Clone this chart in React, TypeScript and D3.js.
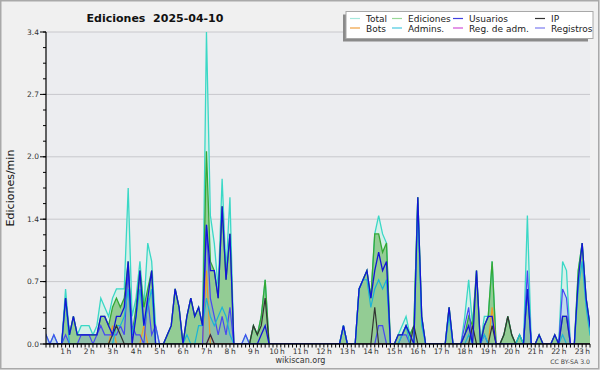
import React from "react";
import * as d3 from "d3";

// 10-minute bins starting at 00:00, values in edits/min (one row per hour)
const total = [
  0, 0.1, 0, 0.1, 0, 0,
  0.6, 0.1, 0.3, 0.1, 0.2, 0.2,
  0.2, 0.1, 0.2, 0.5, 0.4, 0.3,
  0.5, 0.6, 0.6, 0.6, 1.7, 0.3,
  0.5, 0.9, 0.4, 1.1, 0.9, 0.2,
  0, 0, 0.1, 0.2, 0.6, 0.4,
  0, 0.3, 0.5, 0.3, 0.4, 0.2,
  3.4, 1.4, 1.1, 0.6, 1.8, 0.8,
  1.6, 0, 0, 0, 0.1, 0,
  0.2, 0.1, 0.3, 0.7, 0, 0,
  0, 0, 0, 0, 0, 0,
  0, 0, 0, 0, 0, 0,
  0, 0, 0, 0, 0, 0.2,
  0, 0, 0, 0.6, 0.7, 0.8,
  0.5, 1.2, 1.4, 1.2, 1.1, 0,
  0, 0.1, 0.2, 0.3, 0.1, 0.2,
  1.6, 0.3, 0, 0, 0, 0,
  0, 0, 0.4, 0, 0, 0,
  0.3, 0.7, 0.2, 0.8, 0, 0.3,
  0.3, 0.9, 0, 0, 0.1, 0.3,
  0.1, 0, 0.1, 0, 1.4, 0,
  0, 0.1, 0, 0, 0, 0.1,
  0, 0.9, 0.8, 0, 0, 0.8,
  1.1, 0.5, 0.2, 0, 0, 0,
];

const ediciones = [
  0, 0, 0, 0, 0, 0,
  0.5, 0.1, 0.3, 0.1, 0.1, 0.1,
  0.1, 0.1, 0.1, 0.3, 0.3, 0.2,
  0.4, 0.5, 0.4, 0.5, 0.9, 0.1,
  0.4, 0.8, 0.4, 0.6, 0.8, 0,
  0, 0, 0.1, 0.2, 0.6, 0.4,
  0, 0.3, 0.5, 0.3, 0.4, 0.2,
  2.1, 0.9, 0.8, 0.5, 1.5, 0.7,
  1.2, 0, 0, 0, 0, 0,
  0.2, 0.1, 0.3, 0.7, 0, 0,
  0, 0, 0, 0, 0, 0,
  0, 0, 0, 0, 0, 0,
  0, 0, 0, 0, 0, 0.2,
  0, 0, 0, 0.6, 0.7, 0.8,
  0.5, 1.2, 1.2, 1.0, 1.1, 0,
  0, 0.1, 0.1, 0.2, 0.1, 0.2,
  1.6, 0.3, 0, 0, 0, 0,
  0, 0, 0.4, 0, 0, 0,
  0.1, 0.3, 0.2, 0.8, 0, 0.2,
  0.3, 0.9, 0, 0, 0.1, 0.3,
  0.1, 0, 0.1, 0, 0.6, 0,
  0, 0.1, 0, 0, 0, 0.1,
  0, 0.3, 0.3, 0, 0, 0.8,
  1.1, 0.5, 0.2, 0, 0, 0,
];

const usuarios = [
  0, 0, 0, 0, 0, 0,
  0.5, 0.1, 0.3, 0.1, 0.1, 0.1,
  0.1, 0.1, 0.1, 0.3, 0.3, 0.2,
  0.1, 0.3, 0.3, 0.4, 0.9, 0,
  0.3, 0.8, 0.2, 0.5, 0.8, 0,
  0, 0, 0.1, 0.2, 0.6, 0.4,
  0, 0.3, 0.5, 0.3, 0.4, 0.2,
  1.3, 0.8, 0.8, 0.5, 1.5, 0.7,
  1.2, 0, 0, 0, 0, 0,
  0, 0, 0.1, 0.2, 0, 0,
  0, 0, 0, 0, 0, 0,
  0, 0, 0, 0, 0, 0,
  0, 0, 0, 0, 0, 0.2,
  0, 0, 0, 0.6, 0.7, 0.8,
  0.5, 0.8, 1.0, 0.8, 0.9, 0,
  0, 0.1, 0.1, 0.2, 0.1, 0,
  1.6, 0.3, 0, 0, 0, 0,
  0, 0, 0.4, 0, 0, 0,
  0.1, 0.2, 0, 0.8, 0, 0.2,
  0.3, 0.3, 0, 0, 0, 0,
  0, 0, 0, 0, 0.6, 0,
  0, 0.1, 0, 0, 0, 0.1,
  0, 0.3, 0.3, 0, 0, 0.7,
  1.1, 0.5, 0.2, 0, 0, 0,
];

const ip = [
  0, 0, 0, 0, 0, 0,
  0, 0, 0, 0, 0, 0,
  0, 0, 0, 0, 0, 0,
  0.1, 0.2, 0.1, 0, 0, 0,
  0, 0, 0, 0, 0, 0,
  0, 0, 0, 0, 0, 0,
  0, 0, 0, 0, 0, 0,
  0, 0.1, 0, 0, 0, 0,
  0, 0, 0, 0, 0, 0,
  0.2, 0.1, 0.2, 0.5, 0, 0,
  0, 0, 0, 0, 0, 0,
  0, 0, 0, 0, 0, 0,
  0, 0, 0, 0, 0, 0,
  0, 0, 0, 0, 0, 0,
  0, 0.4, 0, 0, 0, 0,
  0, 0, 0, 0, 0, 0.2,
  0, 0, 0, 0, 0, 0,
  0, 0, 0, 0, 0, 0,
  0, 0, 0.2, 0, 0, 0,
  0, 0.2, 0, 0, 0.1, 0.3,
  0.1, 0, 0, 0, 0, 0,
  0, 0, 0, 0, 0, 0,
  0, 0, 0, 0, 0, 0,
  0, 0, 0, 0, 0, 0,
];

const bots = [
  0, 0, 0, 0, 0, 0,
  0, 0, 0, 0, 0, 0,
  0, 0, 0, 0, 0, 0,
  0.2, 0, 0, 0, 0, 0,
  0, 0, 0.2, 0, 0, 0,
  0, 0, 0, 0, 0, 0,
  0, 0, 0, 0, 0, 0,
  0.8, 0, 0, 0, 0, 0,
  0, 0, 0, 0, 0, 0,
  0, 0, 0, 0, 0, 0,
  0, 0, 0, 0, 0, 0,
  0, 0, 0, 0, 0, 0,
  0, 0, 0, 0, 0, 0,
  0, 0, 0, 0, 0, 0,
  0, 0, 0, 0, 0, 0,
  0, 0, 0, 0, 0, 0,
  0, 0, 0, 0, 0, 0,
  0, 0, 0, 0, 0, 0,
  0, 0, 0, 0, 0, 0,
  0, 0.4, 0, 0, 0, 0,
  0, 0, 0, 0, 0, 0,
  0, 0, 0, 0, 0, 0,
  0, 0, 0, 0, 0, 0,
  0, 0, 0, 0, 0, 0,
];

const admins = [
  0, 0, 0, 0, 0, 0,
  0.5, 0, 0, 0, 0, 0,
  0, 0, 0, 0, 0, 0,
  0, 0.2, 0.2, 0.3, 0.6, 0.1,
  0.3, 0.6, 0.2, 0.4, 0.6, 0,
  0, 0, 0, 0, 0, 0,
  0, 0.1, 0, 0, 0.2, 0.2,
  0.5, 0.3, 0.2, 0.3, 0.4, 0.3,
  0.1, 0, 0, 0, 0, 0,
  0, 0, 0, 0, 0, 0,
  0, 0, 0, 0, 0, 0,
  0, 0, 0, 0, 0, 0,
  0, 0, 0, 0, 0, 0.2,
  0, 0, 0, 0.6, 0.7, 0.7,
  0.4, 0.6, 0.7, 0.6, 0.7, 0,
  0, 0, 0.1, 0.2, 0, 0,
  1.5, 0.2, 0, 0, 0, 0,
  0, 0, 0.3, 0, 0, 0,
  0, 0.1, 0, 0, 0, 0.1,
  0, 0, 0, 0, 0, 0,
  0, 0, 0.1, 0, 0.6, 0,
  0, 0, 0, 0, 0, 0,
  0, 0.1, 0, 0, 0, 0.6,
  0.9, 0.4, 0.1, 0, 0, 0,
];

const regAdm = [
  0, 0, 0, 0, 0, 0,
  0, 0, 0, 0, 0, 0,
  0, 0, 0, 0, 0, 0,
  0, 0, 0, 0, 0, 0,
  0, 0, 0, 0, 0, 0,
  0, 0, 0, 0, 0, 0,
  0, 0, 0, 0, 0, 0,
  0, 0.1, 0, 0, 0, 0,
  0, 0, 0, 0, 0, 0,
  0, 0, 0, 0, 0, 0,
  0, 0, 0, 0, 0, 0,
  0, 0, 0, 0, 0, 0,
  0, 0, 0, 0, 0, 0,
  0, 0, 0, 0, 0, 0,
  0, 0, 0, 0, 0, 0,
  0, 0, 0, 0, 0, 0,
  0, 0, 0, 0, 0, 0,
  0, 0, 0, 0, 0, 0,
  0, 0, 0, 0, 0, 0,
  0, 0, 0, 0, 0, 0,
  0, 0, 0, 0, 0, 0,
  0, 0, 0, 0, 0, 0,
  0, 0, 0, 0, 0, 0,
  0, 0, 0, 0, 0, 0,
];

const registros = [
  0, 0.1, 0, 0.1, 0, 0,
  0.1, 0, 0, 0, 0.1, 0.1,
  0.1, 0, 0.1, 0.2, 0.1, 0.1,
  0.1, 0.1, 0.2, 0.1, 0.8, 0.2,
  0.1, 0.1, 0, 0.5, 0.1, 0.2,
  0, 0, 0, 0, 0, 0,
  0, 0, 0, 0, 0, 0,
  1.3, 0.5, 0.3, 0.1, 0.3, 0.1,
  0.4, 0, 0, 0, 0.1, 0,
  0, 0, 0, 0, 0, 0,
  0, 0, 0, 0, 0, 0,
  0, 0, 0, 0, 0, 0,
  0, 0, 0, 0, 0, 0,
  0, 0, 0, 0, 0, 0,
  0, 0, 0.2, 0.2, 0, 0,
  0, 0, 0.1, 0.1, 0, 0,
  0, 0, 0, 0, 0, 0,
  0, 0, 0, 0, 0, 0,
  0.2, 0.4, 0, 0, 0, 0.1,
  0, 0, 0, 0, 0, 0,
  0, 0, 0, 0, 0.8, 0,
  0, 0, 0, 0, 0, 0,
  0, 0.6, 0.5, 0, 0, 0,
  0, 0, 0, 0, 0, 0,
];

const hourLabels = [
  "1 h", "2 h", "3 h", "4 h", "5 h", "6 h", "7 h", "8 h", "9 h", "10 h", "11 h", "12 h",
  "13 h", "14 h", "15 h", "16 h", "17 h", "18 h", "19 h", "20 h", "21 h", "22 h", "23 h",
];
const yTickLabels = ["0.0", "0.7", "1.4", "2.0", "2.7", "3.4"];
const legendNames = ["Total", "Ediciones", "Usuarios", "IP", "Bots", "Admins.", "Reg. de adm.", "Registros"];

const Y_MAX = 3.4;
const BIN_MIN = 10;

export default function App() {
  const W = 600, H = 370;
  const L = 46, R = 590, T = 32, B = 344;

  const x = d3.scaleLinear().domain([10, 1400]).range([L, R]);
  const y = d3.scaleLinear().domain([0, Y_MAX]).range([B, T]);

  const toPts = (vals: number[]) => vals.map((v, i) => [i * BIN_MIN, v] as [number, number]);
  const line = d3.line<[number, number]>().x(d => x(d[0])).y(d => y(d[1]));
  const area = d3.area<[number, number]>().x(d => x(d[0])).y0(y(0)).y1(d => y(d[1]));

  const series = [
    { name: "Total", vals: total, stroke: "#3ad8c6", w: 1.3, legend: "#a6e8dd" },
    { name: "Ediciones", vals: ediciones, stroke: "#35a835", w: 1.3, legend: "#98d898" },
    { name: "Usuarios", vals: usuarios, stroke: "#1414d8", w: 1.3, legend: "#4040e0" },
    { name: "IP", vals: ip, stroke: "#333333", w: 1.2, legend: "#333333" },
    { name: "Bots", vals: bots, stroke: "#f09a28", w: 1.2, legend: "#f0a040" },
    { name: "Admins.", vals: admins, stroke: "#1cb4d6", w: 1.2, legend: "#48c8e0" },
    { name: "Reg. de adm.", vals: regAdm, stroke: "#cc40cc", w: 1.2, legend: "#d050d8" },
    { name: "Registros", vals: registros, stroke: "#4848f2", w: 1.2, legend: "#7c7cf0" },
  ];
  const byName: Record<string, any> = {};
  series.forEach(s => (byName[s.name] = s));
  const drawOrder = ["Total", "Ediciones", "Bots", "Reg. de adm.", "Registros", "Admins.", "IP", "Usuarios"];

  const majorVals = yTickLabels.map((_, i) => (i * Y_MAX) / (yTickLabels.length - 1));
  const minorVals = d3.range(0, 21).map(i => (i * Y_MAX) / 20);
  const xMinor = d3.range(10, 1401, 10);

  const legendCols = [350, 392, 453, 535];
  const legendRows = [19, 28.5];

  React.useEffect(() => {
    document.body.style.margin = "0";
  }, []);

  return (
    <svg width={W} height={H} style={{ position: "absolute", left: 0, top: 0, display: "block" }}
      fontFamily="DejaVu Sans">
      <defs>
        <clipPath id="plotClip">
          <rect x={L} y={T - 4} width={R - L} height={B - T + 4} />
        </clipPath>
      </defs>
      <rect x={0} y={0} width={W} height={H} fill="#f0f0f0" />
      <rect x={0.75} y={0.75} width={W - 2} height={H - 2} fill="none" stroke="#a9a9a9" strokeWidth={1.5} />
      <rect x={L} y={T} width={R - L} height={B - T} fill="#ecedf0" />

      {/* grid */}
      {majorVals.slice(1).map((v, i) => (
        <line key={"g" + i} x1={L} x2={R} y1={y(v)} y2={y(v)} stroke="#c8c8cc" strokeWidth={1} />
      ))}

      <g clipPath="url(#plotClip)">
        <path d={area(toPts(total)) || ""} fill="#d3efe8" fillOpacity={0.9} />
        <path d={area(toPts(ediciones)) || ""} fill="#8fc98f" fillOpacity={0.95} />
        <path d={area(toPts(registros)) || ""} fill="#7a8cf0" fillOpacity={0.22} />
        {drawOrder.map(n => {
          const s = byName[n];
          return (
            <path key={n} d={line(toPts(s.vals)) || ""} fill="none" stroke={s.stroke}
              strokeWidth={s.w} strokeLinejoin="miter" />
          );
        })}
      </g>

      {/* y axis */}
      <line x1={L} x2={L} y1={T} y2={B} stroke="#000" strokeWidth={1.2} />
      {minorVals.map((v, i) => (
        <line key={"ym" + i} x1={L - 3} x2={L} y1={y(v)} y2={y(v)} stroke="#000" strokeWidth={1} />
      ))}
      {majorVals.map((v, i) => (
        <g key={"yt" + i}>
          <line x1={L - 6} x2={L} y1={y(v)} y2={y(v)} stroke="#000" strokeWidth={1} />
          <text x={L - 7} y={y(v) + 2.6} fontSize={7.5} textAnchor="end" fill="#333">
            {yTickLabels[i]}
          </text>
        </g>
      ))}

      {/* x axis */}
      <line x1={L} x2={R} y1={B} y2={B} stroke="#000" strokeWidth={1.5} />
      {xMinor.map((m, i) => (
        <line key={"xm" + i} x1={x(m)} x2={x(m)} y1={B} y2={B + 3.5} stroke="#000" strokeWidth={1} />
      ))}
      {hourLabels.map((lab, i) => (
        <text key={"xl" + i} x={x((i + 1) * 60)} y={354} fontSize={7.5} textAnchor="middle"
          fill="#333" letterSpacing={-0.4}>
          {lab}
        </text>
      ))}

      {/* titles */}
      <text x={155} y={22} fontSize={11} fontWeight="bold" textAnchor="middle" fill="#111"
        style={{ whiteSpace: "pre" }}>
        {"Ediciones  2025-04-10"}
      </text>
      <text transform={`translate(14,${(T + B) / 2}) rotate(-90)`} fontSize={11} textAnchor="middle" fill="#111">
        Ediciones/min
      </text>
      <text x={300.5} y={363} fontSize={8} textAnchor="middle" fill="#333">wikiscan.org</text>
      <text x={590} y={364} fontSize={6.2} textAnchor="end" fill="#444">CC BY-SA 3.0</text>

      {/* legend */}
      <rect x={343} y={14.5} width={245} height={27} fill="#8a8a8a" />
      <rect x={346} y={11.5} width={247} height={27} fill="#ffffff" stroke="#a8a8a8" strokeWidth={1} />
      {legendNames.map((n, i) => {
        const col = i % 4;
        const row = Math.floor(i / 4);
        const lx = legendCols[col];
        const ly = legendRows[row];
        return (
          <g key={"lg" + i}>
            <line x1={lx} x2={lx + 10} y1={ly - 0.5} y2={ly - 0.5} stroke={byName[n].legend} strokeWidth={1.2} />
            <text x={lx + 16} y={ly + 3} fontSize={9} fill="#222">{n}</text>
          </g>
        );
      })}
    </svg>
  );
}
